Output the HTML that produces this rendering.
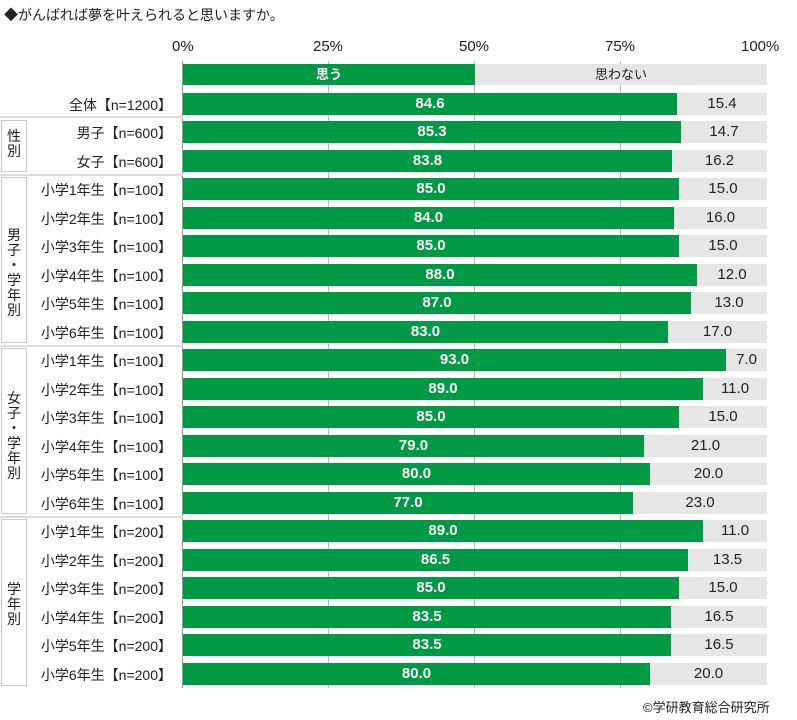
<!DOCTYPE html><html><head><meta charset="utf-8"><style>
body{margin:0;width:797px;height:720px;background:#fff;font-family:"Liberation Sans","Noto Sans CJK JP",sans-serif;position:relative;overflow:hidden}
div{position:absolute}
.t{font-size:14px;color:#222}
.lab{right:625px;font-size:14px;color:#222;text-align:right;white-space:nowrap}
.g{background:#009944;color:#fff;font-weight:bold;font-size:15px;text-align:center}
.r{background:#e6e6e6;color:#222;font-size:15px;text-align:center}
.grid{width:1px;background:#bbb;top:61px;height:627px}
.box{border:1px solid #ccc;left:1px;width:26px;font-size:14px;color:#222;text-align:center;line-height:15px}
.sep{left:0;width:183px;height:2px;background:#ddd}
</style></head><body>
<div class="t" style="left:4px;top:5px">◆がんばれば夢を叶えられると思いますか。</div>
<div class="t" style="left:172px;top:38px;font-size:15px">0%</div>
<div class="t" style="left:313px;top:38px;font-size:15px">25%</div>
<div class="t" style="left:459px;top:38px;font-size:15px">50%</div>
<div class="t" style="left:605px;top:38px;font-size:15px">75%</div>
<div class="t" style="left:741px;top:38px;font-size:15px">100%</div>
<div class="grid" style="left:328px"></div><div class="grid" style="left:474px"></div><div class="grid" style="left:620px"></div>
<div style="left:182px;top:61px;width:1px;height:627px;background:#999"></div>
<div class="sep" style="top:116px"></div><div class="sep" style="top:174px"></div><div class="sep" style="top:345px"></div><div class="sep" style="top:516px"></div>
<div class="box" style="top:120px;height:52px;padding-top:8px;box-sizing:border-box">性<br>別</div>
<div class="box" style="top:177px;height:166px;padding-top:50px;box-sizing:border-box">男<br>子<br>・<br>学<br>年<br>別</div>
<div class="box" style="top:348px;height:166px;padding-top:42px;box-sizing:border-box">女<br>子<br>・<br>学<br>年<br>別</div>
<div class="box" style="top:519px;height:167px;padding-top:62px;box-sizing:border-box">学<br>年<br>別</div>
<div id="c"></div>
<div class="t" style="left:643px;top:697px;font-size:13px">©学研教育総合研究所</div>
<script>
var rows=[["全体【n=1200】",84.6],["男子【n=600】",85.3],["女子【n=600】",83.8]];
var m=[85,84,85,88,87,83],f=[93,89,85,79,80,77],a=[89,86.5,85,83.5,83.5,80];
m.forEach((v,i)=>rows.push(["小学"+(i+1)+"年生【n=100】",v]));
f.forEach((v,i)=>rows.push(["小学"+(i+1)+"年生【n=100】",v]));
a.forEach((v,i)=>rows.push(["小学"+(i+1)+"年生【n=200】",v]));
var h='',W=584,X=183;
h+='<div class="g" style="left:183px;top:64px;width:292px;height:21px;line-height:21px;font-size:13px">思う</div><div class="r" style="left:475px;top:64px;width:292px;height:21px;line-height:21px;font-size:13px">思わない</div>';
rows.forEach((r,i)=>{var t=Math.round(61+28.5*(i+1)+3),w=Math.round(W*r[1]/100);
h+='<div class="lab" style="top:'+(t+2)+'px">'+r[0]+'</div>';
h+='<div class="g" style="left:'+X+'px;top:'+t+'px;width:'+w+'px;height:22px;line-height:22px">'+r[1].toFixed(1)+'</div>';
h+='<div class="r" style="left:'+(X+w)+'px;top:'+t+'px;width:'+(W-w)+'px;height:22px;line-height:22px">'+(100-r[1]).toFixed(1)+'</div>';});
document.getElementById('c').outerHTML=h;
</script>
</body></html>
